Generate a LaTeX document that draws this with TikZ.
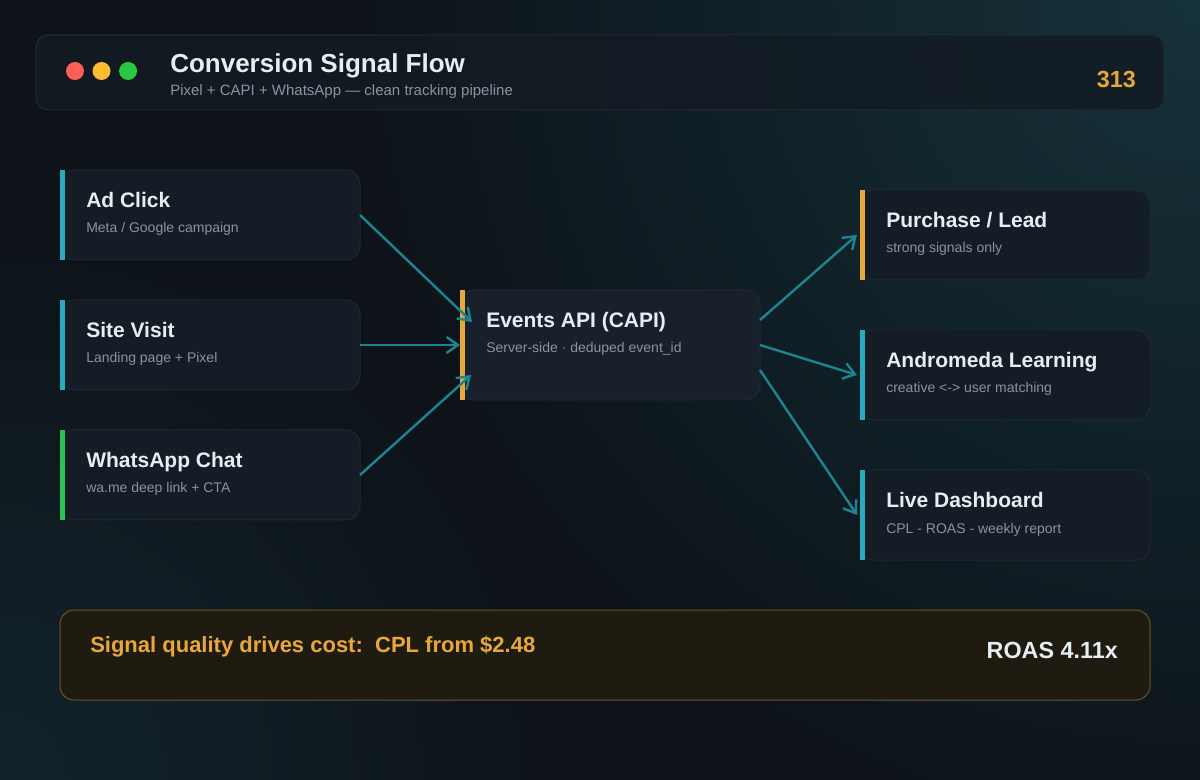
\documentclass[tikz,border=0pt]{standalone}
\usepackage{fontspec}
\setmainfont{Liberation Sans}
\usetikzlibrary{arrows.meta,positioning,fadings}

\definecolor{bgbase}{HTML}{0D1319}
\definecolor{glow}{HTML}{16323A}
\definecolor{glowlow}{HTML}{13242C}
\definecolor{panel}{HTML}{131B23}
\definecolor{panelline}{HTML}{212B36}
\definecolor{cardfill}{HTML}{141C25}
\definecolor{cardline}{HTML}{1F2934}
\definecolor{capifill}{HTML}{18212B}
\definecolor{txt}{HTML}{E6EDF3}
\definecolor{muted}{HTML}{8B949E}
\definecolor{amber}{HTML}{E6A83C}
\definecolor{tealbar}{HTML}{2AA9BF}
\definecolor{greenbar}{HTML}{2BC253}
\definecolor{flow}{HTML}{1C8591}
\definecolor{notefill}{HTML}{201B11}
\definecolor{noteline}{HTML}{6A5526}
\definecolor{dotred}{HTML}{FF5F57}
\definecolor{dotyel}{HTML}{FEBC2E}
\definecolor{dotgrn}{HTML}{28C840}

\tikzfading[name=glowfade,inner color=transparent!0,outer color=transparent!100]

\begin{document}
\begin{tikzpicture}[x=0.75pt,y=-0.75pt,
		card/.style={rectangle,rounded corners=10.5pt,draw=cardline,fill=cardfill,line width=0.75pt,
			inner sep=0pt,outer sep=0pt,minimum width=225pt,minimum height=67.5pt,anchor=north west},
		ttl/.style={anchor=base west,inner sep=0pt,text=txt,font=\bfseries\fontsize{15.75}{18}\selectfont},
		sub/.style={anchor=base west,inner sep=0pt,text=muted,font=\fontsize{10.5}{12}\selectfont},
		dot/.style={circle,inner sep=0pt,minimum size=13.5pt},
		marrow/.style={-{Straight Barb[length=8.5pt,width=12pt]},line width=1.8pt,draw=flow}]

		% background
		\fill[bgbase] (0,0) rectangle (1200,780);
		\begin{scope}
			\clip (0,0) rectangle (1200,780);
			\fill[glow,path fading=glowfade] (1200,0) circle (850);
			\fill[glowlow,path fading=glowfade] (0,780) circle (550);
		\end{scope}
		\useasboundingbox (0,0) rectangle (1200,780);

		% header
		\node [card,fill=panel,fill opacity=0.85,draw=panelline,rounded corners=9pt,
			minimum width=846pt,minimum height=56.25pt] (head) at (36,35) {};
		\node [dot,fill=dotred] (red) at (75,71) {};
		\node [dot,fill=dotyel,right=6pt of red] (yellow) {};
		\node [dot,fill=dotgrn,right=6pt of yellow] (green) {};
		\node [ttl,font=\bfseries\fontsize{19.5}{22}\selectfont] (title) at (170,73) {Conversion Signal Flow};
		\node [sub,font=\fontsize{11.25}{13}\selectfont] (tagline) at (170,96) {Pixel + CAPI + WhatsApp — clean tracking pipeline};
		\node [anchor=base east,inner sep=0pt,text=amber,font=\bfseries\fontsize{17.5}{20}\selectfont] (count) at (1136,88) {313};

		% sources
		\node [card] (ad) at (60,170) {};
		\node [card,below=30pt of ad] (site) {};
		\node [card,below=30pt of site] (chat) {};

		% events api
		\node [card,fill=capifill,minimum height=82.5pt] (capi) at (460,290) {};

		% outcomes
		\node [card,minimum width=217.5pt] (lead) at (860,190) {};
		\node [card,minimum width=217.5pt,below=37.5pt of lead] (andro) {};
		\node [card,minimum width=217.5pt,below=37.5pt of andro] (dash) {};

		% accent bars
		\fill [tealbar] (ad.north west) rectangle ([xshift=3.75pt]ad.south west);
		\fill [tealbar] (site.north west) rectangle ([xshift=3.75pt]site.south west);
		\fill [greenbar] (chat.north west) rectangle ([xshift=3.75pt]chat.south west);
		\fill [amber] (capi.north west) rectangle ([xshift=3.75pt]capi.south west);
		\fill [amber] (lead.north west) rectangle ([xshift=3.75pt]lead.south west);
		\fill [tealbar] (andro.north west) rectangle ([xshift=3.75pt]andro.south west);
		\fill [tealbar] (dash.north west) rectangle ([xshift=3.75pt]dash.south west);

		% card texts
		\node [ttl] (ad-t) at ([shift={(26,38)}]ad.north west) {Ad Click};
		\node [sub] (ad-s) at ([shift={(26,63)}]ad.north west) {Meta / Google campaign};
		\node [ttl] (site-t) at ([shift={(26,38)}]site.north west) {Site Visit};
		\node [sub] (site-s) at ([shift={(26,63)}]site.north west) {Landing page + Pixel};
		\node [ttl] (chat-t) at ([shift={(26,38)}]chat.north west) {WhatsApp Chat};
		\node [sub] (chat-s) at ([shift={(26,63)}]chat.north west) {wa.me deep link + CTA};
		\node [ttl] (capi-t) at ([shift={(26,38)}]capi.north west) {Events API (CAPI)};
		\node [sub] (capi-s) at ([shift={(26,63)}]capi.north west) {Server-side · deduped event\_id};
		\node [ttl] (lead-t) at ([shift={(26,38)}]lead.north west) {Purchase / Lead};
		\node [sub] (lead-s) at ([shift={(26,63)}]lead.north west) {strong signals only};
		\node [ttl] (andro-t) at ([shift={(26,38)}]andro.north west) {Andromeda Learning};
		\node [sub] (andro-s) at ([shift={(26,63)}]andro.north west) {creative <-> user matching};
		\node [ttl] (dash-t) at ([shift={(26,38)}]dash.north west) {Live Dashboard};
		\node [sub] (dash-s) at ([shift={(26,63)}]dash.north west) {CPL - ROAS - weekly report};

		% arrows into the events api
		\draw [marrow] (ad.east) -- ([shift={(12,-23)}]capi.west);
		\draw [marrow] (site.east) -- (capi.west);
		\draw [marrow] (chat.east) -- ([shift={(11,30)}]capi.west);

		% arrows out of it
		\draw [marrow] ([shift={(0,-25)}]capi.east) -- ([xshift=-2.25pt]lead.west);
		\draw [marrow] (capi.east) -- ([xshift=-2.25pt]andro.west);
		\draw [marrow] ([shift={(0,25)}]capi.east) -- ([xshift=-2.25pt]dash.west);

		% bottom note
		\node [card,fill=notefill,draw=noteline,minimum width=817.5pt] (note) at (60,610) {};
		\node [anchor=base west,inner sep=0pt,text=amber,font=\bfseries\fontsize{16.5}{19}\selectfont]
			(note-t) at ([shift={(30,42)}]note.north west) {Signal quality drives cost:\ \ CPL from \$2.48};
		\node [anchor=base east,inner sep=0pt,text=txt,font=\bfseries\fontsize{17.5}{20}\selectfont]
			(roas) at ([shift={(-32,48)}]note.north east) {ROAS 4.11x};
	\end{tikzpicture}
\end{document}
